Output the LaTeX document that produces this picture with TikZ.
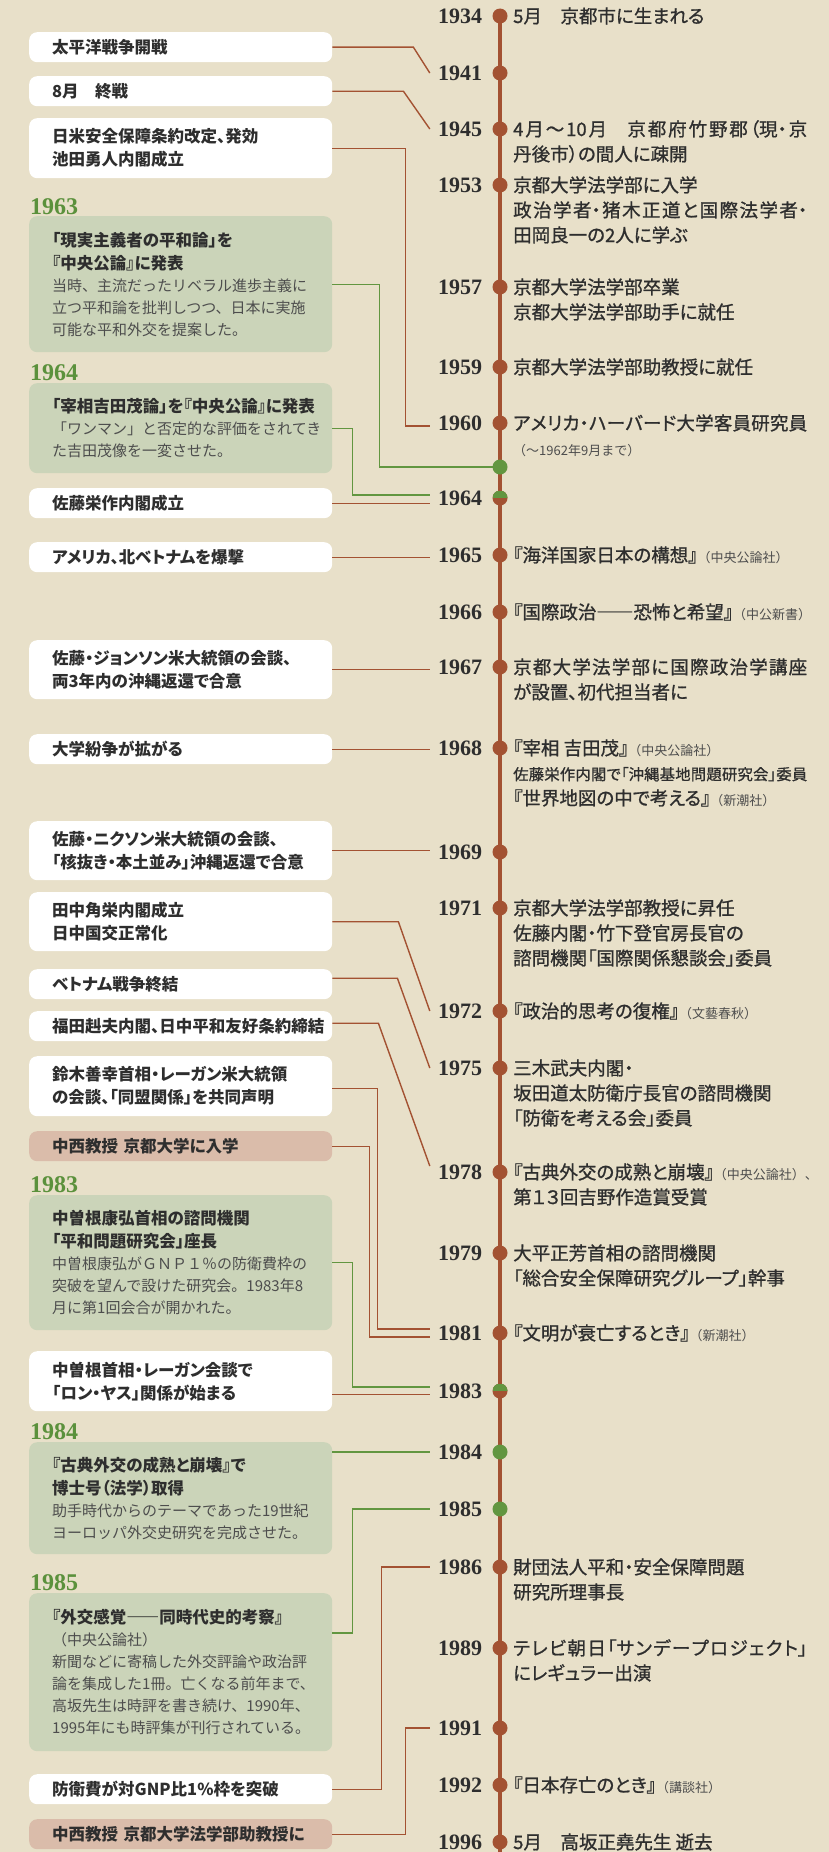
\documentclass[tikz,border=0pt]{standalone}
\usepackage{fontspec}
\setmainfont{Noto Sans CJK JP}[RawFeature=+palt]
\newfontfamily\jpfix{Noto Sans CJK JP}
\newfontfamily\jpmed{Noto Sans CJK JP}[RawFeature=+palt, FakeBold=1]
\newfontfamily\yrfont{Liberation Serif}
\definecolor{bg}{HTML}{E8E0C9}
\definecolor{tl}{HTML}{A35232}
\definecolor{gr}{HTML}{629640}
\definecolor{gyc}{HTML}{5B913C}
\definecolor{gf}{HTML}{CBD4B9}
\definecolor{pk}{HTML}{DABCAA}
\definecolor{txt}{HTML}{2E2E2E}
\definecolor{gtx}{HTML}{4D4D4D}
\newcommand\mlines[1]{\begin{tabular}[t]{@{}l@{}}#1\end{tabular}}
\newcommand\jl[1]{\parbox[t]{294pt}{\XeTeXlinebreaklocale "ja"\XeTeXlinebreakskip=0pt plus 6pt minus 0.5pt\relax\parindent=0pt\parfillskip=0pt\leftskip=0pt\rightskip=0pt\relax #1\par}}
\newcommand\sm[1]{{\jpfix\fontsize{13}{13}\selectfont\color{gtx}#1}}
\newcommand\desc{\jpfix\mdseries\color{gtx}\fontsize{15}{22}\selectfont}
\begin{document}
\begin{tikzpicture}[x=1pt,y=-1pt,
  rl/.style={draw=tl, line width=1.4pt},
  gl/.style={draw=gr, line width=1.4pt},
  dotn/.style={circle, fill=tl, minimum size=15pt, inner sep=0pt},
  gdot/.style={dotn, fill=gr},
  hdot/.style={dotn, path picture={\fill[gr] (path picture bounding box.north west) rectangle (path picture bounding box.east);}},
  yr/.style={font=\yrfont\bfseries\fontsize{22}{22}\selectfont, text=txt, minimum width=60pt, inner sep=0pt},
  gyr/.style={font=\yrfont\bfseries\fontsize{24}{24}\selectfont, text=gyc, anchor=west, inner sep=0pt},
  rt/.style={anchor=base west, inner sep=0pt, text=txt, font=\jpmed\fontsize{18.5}{25}\selectfont},
  box/.style={anchor=north west, fill=white, rounded corners=8pt, text width=257pt, inner xsep=23pt, inner ysep=0pt, align=left, text=txt, font=\bfseries\fontsize{16.5}{23}\selectfont},
  gbox/.style={box, fill=gf},
  pbox/.style={box, fill=pk},
]
\useasboundingbox (0,0) rectangle (829,1852);
\fill[bg] (0,0) rectangle (829,1852);

% ---------- left boxes ----------
\node[box, minimum height=30pt] (b1941) at (29,32) {太平洋戦争開戦};
\node[box, minimum height=30pt] (b1945) at (29,76) {8月　終戦};
\node[box, minimum height=60pt] (b1960) at (29,118) {日米安全保障条約改定、発効\\池田勇人内閣成立};
\node[gyr] (l1963) at (30,207) {1963};
\node[gbox, minimum height=136pt] (g1963) at (29,216) {「現実主義者の平和論」を\\『中央公論』に発表\par{\desc 当時、主流だったリベラル進歩主義に\\立つ平和論を批判しつつ、日本に実施\\可能な平和外交を提案した。\par}};
\node[gyr] (l1964) at (30,373) {1964};
\node[gbox, minimum height=90pt] (g1964) at (29,383) {「宰相吉田茂論」を『中央公論』に発表\par{\desc 「ワンマン」と否定的な評価をされてき\\た吉田茂像を一変させた。\par}};
\node[box, minimum height=30pt] (b1964) at (29,488) {佐藤栄作内閣成立};
\node[box, minimum height=30pt] (b1965) at (29,542) {アメリカ、北ベトナムを爆撃};
\node[box, minimum height=59pt] (b1967) at (29,640) {佐藤・ジョンソン米大統領の会談、\\両3年内の沖縄返還で合意};
\node[box, minimum height=30pt] (b1968) at (29,734) {大学紛争が拡がる};
\node[box, minimum height=59pt] (b1969) at (29,821) {佐藤・ニクソン米大統領の会談、\\「核抜き・本土並み」沖縄返還で合意};
\node[box, minimum height=59pt] (b1972) at (29,892) {田中角栄内閣成立\\日中国交正常化};
\node[box, minimum height=30pt] (b1975) at (29,969) {ベトナム戦争終結};
\node[box, minimum height=30pt] (b1978) at (29,1011) {福田赳夫内閣、日中平和友好条約締結};
\node[box, minimum height=60pt] (b1981) at (29,1056) {鈴木善幸首相・レーガン米大統領\\の会談、「同盟関係」を共同声明};
\node[pbox, minimum height=30pt] (p1981) at (29,1131) {中西教授 京都大学に入学};
\node[gyr] (l1983) at (30,1185) {1983};
\node[gbox, minimum height=135pt] (g1983) at (29,1195) {中曽根康弘首相の諮問機関\\「平和問題研究会」座長\par{\desc 中曽根康弘がＧＮＰ１％の防衛費枠の\\突破を望んで設けた研究会。1983年8\\月に第1回会合が開かれた。\par}};
\node[box, minimum height=60pt] (b1983) at (29,1351) {中曽根首相・レーガン会談で\\「ロン・ヤス」関係が始まる};
\node[gyr] (l1984) at (30,1432) {1984};
\node[gbox, minimum height=112pt] (g1984) at (29,1442) {『古典外交の成熟と崩壊』で\\博士号（法学）取得\par{\desc 助手時代からのテーマであった19世紀\\ヨーロッパ外交史研究を完成させた。\par}};
\node[gyr] (l1985) at (30,1583) {1985};
\node[gbox, minimum height=158pt] (g1985) at (29,1593) {『外交感覚――同時代史的考察』\par{\desc （中央公論社）\\新聞などに寄稿した外交評論や政治評\\論を集成した1冊。亡くなる前年まで、\\高坂先生は時評を書き続け、1990年、\\1995年にも時評集が刊行されている。\par}};
\node[box, minimum height=30pt] (b1986) at (29,1774) {防衛費が対GNP比1\%枠を突破};
\node[pbox, minimum height=30pt] (p1991) at (29,1819) {中西教授 京都大学法学部助教授に};

% ---------- year labels ----------
\foreach \yy/\pp in {1934/16,1941/73,1945/129,1953/185,1957/287,1959/367,1960/423,1964/498,1965/555,1966/612,1967/667,1968/748,1969/852,1971/908,1972/1011,1975/1068,1978/1172,1979/1253,1981/1333,1983/1391,1984/1452,1985/1509,1986/1567,1989/1648,1991/1728,1992/1785,1996/1842}
  \node[yr] (y\yy) at (460,\pp) {\yy};

% ---------- right texts ----------
\node[rt] (t1934) at (513,23) {\mlines{5月　京都市に生まれる}};
\node[rt] (t1945) at (513,136) {\mlines{\jl{4月～10月　京都府竹野郡（現・京}\\丹後市）の間人に疎開}};
\node[rt] (t1953) at (513,192) {\mlines{京都大学法学部に入学\\\jl{政治学者・猪木正道と国際法学者・}\\田岡良一の2人に学ぶ}};
\node[rt] (t1957) at (513,294) {\mlines{京都大学法学部卒業\\京都大学法学部助手に就任}};
\node[rt] (t1959) at (513,374) {\mlines{京都大学法学部助教授に就任}};
\node[rt] (t1960) at (513,430) {\mlines{\jl{アメリカ・ハーバード大学客員研究員}\\\sm{（～1962年9月まで）}}};
\node[rt] (t1965) at (513,562) {\mlines{『海洋国家日本の構想』\sm{（中央公論社）}}};
\node[rt] (t1966) at (513,619) {\mlines{『国際政治――恐怖と希望』\sm{（中公新書）}}};
\node[rt] (t1967) at (513,674) {\mlines{\jl{京都大学法学部に国際政治学講座}\\が設置、初代担当者に}};
\node[rt] (t1968) at (513,755) {\mlines{『宰相 吉田茂』\sm{（中央公論社）}\\{\fontsize{15.3}{15.3}\selectfont\jl{佐藤栄作内閣で「沖縄基地問題研究会」委員}}\\『世界地図の中で考える』\sm{（新潮社）}}};
\node[rt] (t1971) at (513,915) {\mlines{京都大学法学部教授に昇任\\佐藤内閣・竹下登官房長官の\\諮問機関「国際関係懇談会」委員}};
\node[rt] (t1972) at (513,1018) {\mlines{『政治的思考の復権』\sm{（文藝春秋）}}};
\node[rt] (t1975) at (513,1075) {\mlines{三木武夫内閣・\\坂田道太防衛庁長官の諮問機関\\「防衛を考える会」委員}};
\node[rt] (t1978) at (513,1179) {\mlines{『古典外交の成熟と崩壊』\sm{（中央公論社）、}\\第１３回吉野作造賞受賞}};
\node[rt] (t1979) at (513,1260) {\mlines{大平正芳首相の諮問機関\\「総合安全保障研究グループ」幹事}};
\node[rt] (t1981) at (513,1340) {\mlines{『文明が衰亡するとき』\sm{（新潮社）}}};
\node[rt] (t1986) at (513,1574) {\mlines{財団法人平和・安全保障問題\\研究所理事長}};
\node[rt] (t1989) at (513,1655) {\mlines{\jl{テレビ朝日「サンデープロジェクト」}\\にレギュラー出演}};
\node[rt] (t1992) at (513,1792) {\mlines{『日本存亡のとき』\sm{（講談社）}}};
\node[rt] (t1996) at (513,1849) {\mlines{5月　高坂正堯先生 逝去}};

% ---------- axis ----------
\coordinate (axtop) at (500,16);
\coordinate (axend) at (500,1852);
\coordinate (c1963) at (500,467);
\draw[tl, line width=4.5pt] (axtop) -- (axend);

% ---------- connectors ----------
\draw[rl] (b1941.east) -- ++(81,0) -- (y1941.west);
\draw[rl] (b1945.east) -- ++(71,0) -- (y1945.west);
\draw[rl] (b1960.east) -- ++(73,0) |- ([yshift=-3pt]y1960.west);
\draw[gl] (g1963.east) -- ++(47,0) |- (c1963);
\draw[gl] (g1964.east) -- ++(20,0) |- ([yshift=3pt]y1964.west);
\draw[rl] (b1964.east) -- (b1964.east -| y1964.west);
\draw[rl] (b1965.east) -- (b1965.east -| y1965.west);
\draw[rl] (b1967.east) -- (b1967.east -| y1967.west);
\draw[rl] (b1968.east) -- (b1968.east -| y1968.west);
\draw[rl] (b1969.east) -- (b1969.east -| y1969.west);
\draw[rl] (b1972.east) -- ++(66,0) -- (y1972.west);
\draw[rl] ([yshift=6pt]b1975.east) -- ++(65,0) -- (y1975.west);
\draw[rl] ([yshift=3pt]b1978.east) -- ++(46,0) -- ([yshift=6pt]y1978.west);
\draw[rl] ([yshift=-2pt]b1981.east) -- ++(45,0) |- ([yshift=4pt]y1981.west);
\draw[rl] (p1981.east) -- ++(37,0) |- ([yshift=-4pt]y1981.west);
\draw[gl] (g1983.east) -- ++(20,0) |- ([yshift=4pt]y1983.west);
\draw[rl] ([yshift=-13pt]b1983.east) -- ([yshift=-13pt]b1983.east -| y1983.west);
\draw[gl] (g1984.east |- y1984.west) -- (y1984.west);
\draw[gl] ([yshift=-40pt]g1985.north east) -- ++(20,0) |- (y1985.west);
\draw[rl] (b1986.east) -- ++(49,0) |- (y1986.west);
\draw[rl] (p1991.east) -- ++(73,0) |- (y1991.west);

% ---------- dots ----------
\foreach \pp/\nn in {16/1934,73/1941,129/1945,185/1953,287/1957,367/1959,423/1960,555/1965,612/1966,667/1967,748/1968,852/1969,908/1971,1011/1972,1068/1975,1172/1978,1253/1979,1333/1981,1567/1986,1648/1989,1728/1991,1785/1992,1842/1996}
  \node[dotn] (d\nn) at (500,\pp) {};
\node[gdot] (d1963) at (c1963) {};
\node[hdot] (d1964) at (500,498) {};
\node[hdot] (d1983) at (500,1391) {};
\node[gdot] (d1984) at (500,1452) {};
\node[gdot] (d1985) at (500,1509) {};
\end{tikzpicture}
\end{document}
